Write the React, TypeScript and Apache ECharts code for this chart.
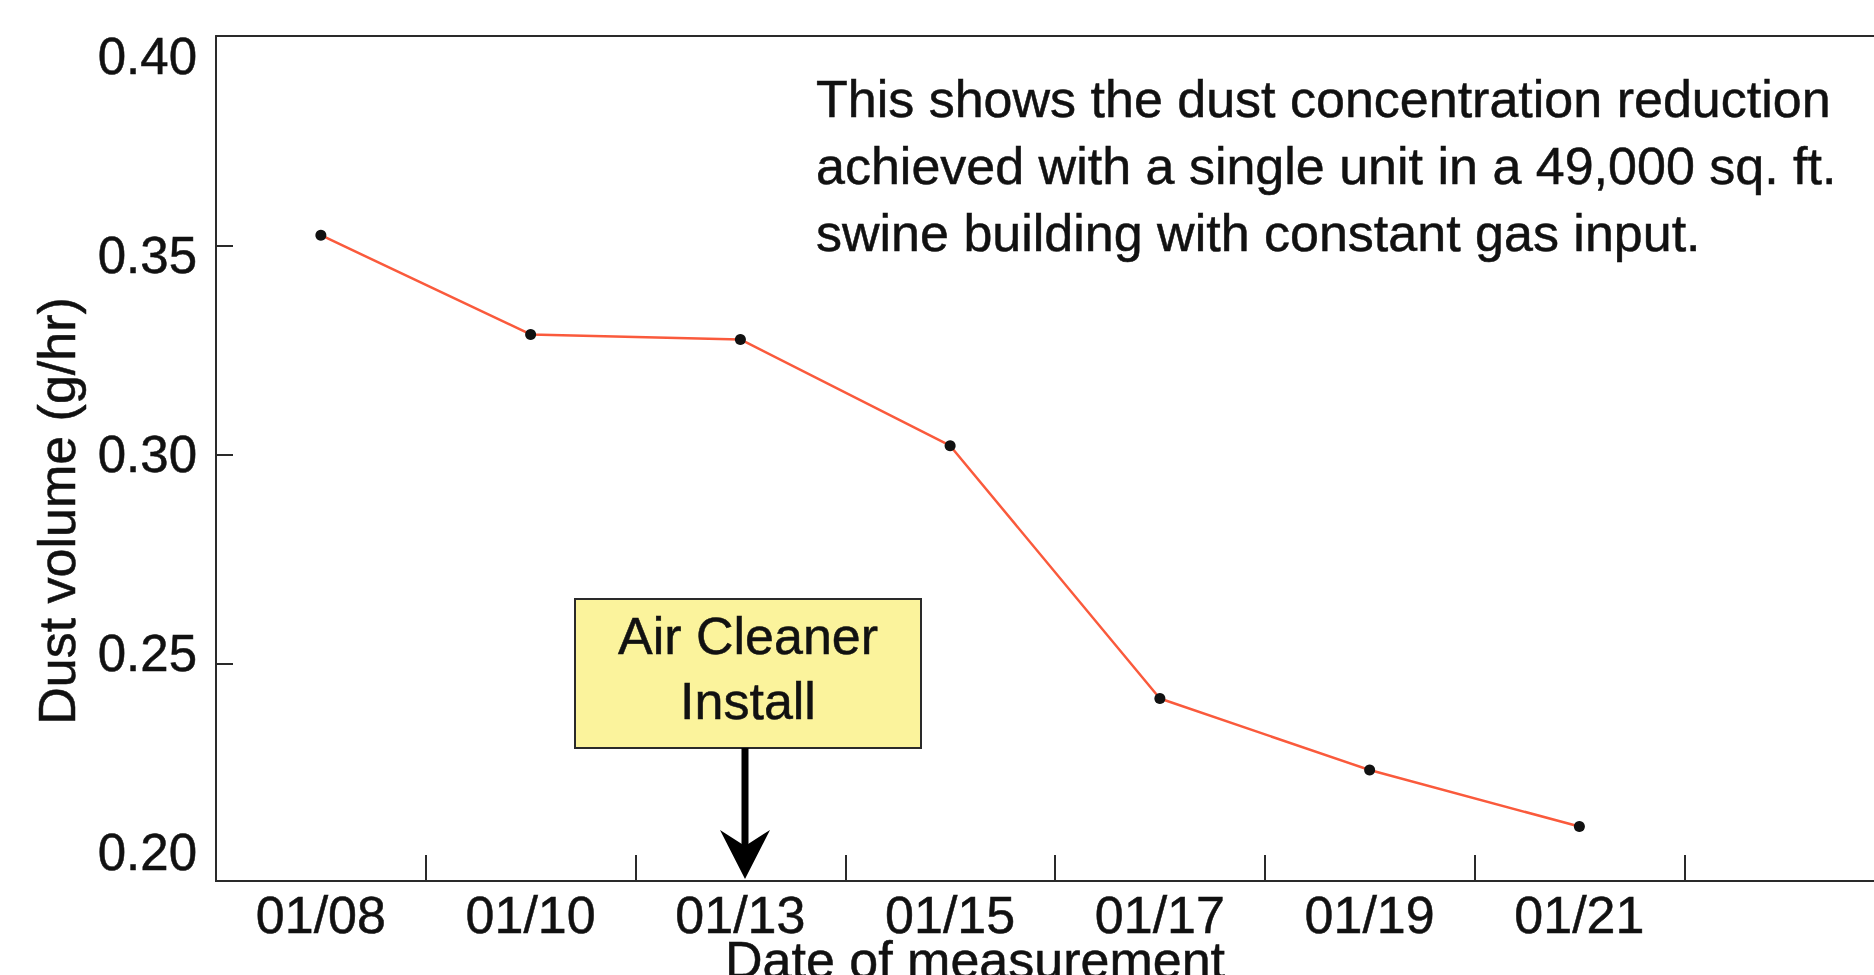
import React, { useEffect, useRef } from "react";
import * as echarts from "echarts";

const categories = ["01/08", "01/10", "01/13", "01/15", "01/17", "01/19", "01/21", ""];
const dustVolume = [0.3524, 0.3287, 0.3275, 0.3021, 0.2417, 0.2246, 0.2111];
const yTickMin = 0.2;
const yTickMax = 0.4;
const yTickStep = 0.05;
const yInnerTicks = [0.25, 0.3, 0.35, 0.4];
const yTitle = "Dust volume (g/hr)";
const xTitle = "Date of measurement";
const noteLines = [
  "This shows the dust concentration reduction",
  "achieved with a single unit in a 49,000 sq. ft.",
  "swine building with constant gas input.",
];
const calloutLines = ["Air Cleaner", "Install"];

const FONT = "'Liberation Sans', Arial, Helvetica, sans-serif";
const INK = "#111111";
const AXIS = "#2a2a2a";

export default function App() {
  const ref = useRef<HTMLDivElement>(null);

  useEffect(() => {
    if (!ref.current) return;
    const chart = echarts.init(ref.current, null, { renderer: "svg" });

    const heavyLabel = { textBorderColor: INK, textBorderWidth: 0.5 };
    const heavyGraphic = { stroke: INK, lineWidth: 0.5 };

    const option: any = {
      animation: false,
      backgroundColor: "#ffffff",
      textStyle: { fontFamily: FONT, color: INK },
      grid: [
        {
          left: 216,
          top: 36,
          width: 1678,
          height: 837,
          show: false,
        },
        {
          left: 216,
          top: 56,
          width: 10,
          height: 796,
          show: false,
        },
      ],
      xAxis: [
        {
          type: "category",
          gridIndex: 0,
          data: categories,
          boundaryGap: true,
          offset: 8,
          axisLine: { lineStyle: { color: AXIS, width: 2 } },
          axisTick: {
            show: true,
            inside: true,
            length: 26,
            interval: 0,
            lineStyle: { color: AXIS, width: 2 },
          },
          axisLabel: {
            interval: 0,
            fontSize: 52,
            lineHeight: 40,
            margin: 14,
            color: INK,
            fontFamily: FONT,
            ...heavyLabel,
          },
          splitLine: { show: false },
        },
        { type: "value", gridIndex: 1, show: false },
        {
          type: "category",
          gridIndex: 0,
          position: "top",
          data: categories,
          axisLine: { show: true, lineStyle: { color: AXIS, width: 2 } },
          axisTick: { show: false },
          axisLabel: { show: false },
          splitLine: { show: false },
        },
      ],
      yAxis: [
        {
          type: "value",
          gridIndex: 0,
          min: yTickMin,
          max: yTickMax,
          interval: yTickStep,
          axisLine: { show: true, lineStyle: { color: AXIS, width: 2 } },
          axisTick: {
            show: true,
            inside: true,
            length: 17,
            customValues: yInnerTicks,
            lineStyle: { color: AXIS, width: 2 },
          },
          axisLabel: { show: false },
          splitLine: { show: false },
        },
        {
          type: "value",
          gridIndex: 1,
          min: yTickMin,
          max: yTickMax,
          interval: yTickStep,
          axisLine: { show: false },
          axisTick: { show: false },
          splitLine: { show: false },
          axisLabel: {
            show: true,
            fontSize: 51,
            margin: 19,
            color: INK,
            fontFamily: FONT,
            ...heavyLabel,
            formatter: (v: number) => v.toFixed(2),
          },
        },
      ],
      series: [
        {
          type: "line",
          xAxisIndex: 0,
          yAxisIndex: 0,
          data: dustVolume,
          symbol: "circle",
          symbolSize: 11,
          lineStyle: { color: "#fa5a3c", width: 2.5 },
          itemStyle: { color: "#111111" },
          z: 3,
        },
      ],
      graphic: [
        {
          type: "line",
          shape: { x1: 216, y1: 872, x2: 216, y2: 882 },
          style: { stroke: AXIS, lineWidth: 2 },
        },
        {
          type: "text",
          x: 816,
          y: 65,
          style: {
            text: noteLines.join("\n"),
            fontSize: 52,
            fontFamily: FONT,
            lineHeight: 67,
            fill: INK,
            align: "left",
            verticalAlign: "top",
            ...heavyGraphic,
          },
        },
        {
          type: "rect",
          shape: { x: 575, y: 599, width: 346, height: 149 },
          style: { fill: "#fbf39c", stroke: AXIS, lineWidth: 2 },
          z: 10,
        },
        {
          type: "text",
          x: 748,
          y: 668,
          style: {
            text: calloutLines.join("\n"),
            fontSize: 52,
            fontFamily: FONT,
            lineHeight: 65,
            fill: INK,
            align: "center",
            verticalAlign: "middle",
            ...heavyGraphic,
          },
          z: 11,
        },
        {
          type: "line",
          shape: { x1: 745, y1: 748, x2: 745, y2: 850 },
          style: { stroke: "#000000", lineWidth: 7 },
          z: 10,
        },
        {
          type: "polygon",
          shape: {
            points: [
              [745, 879],
              [720, 830],
              [745, 846],
              [770, 830],
            ],
          },
          style: { fill: "#000000" },
          z: 10,
        },
        {
          type: "text",
          x: 975,
          y: 960,
          style: {
            text: xTitle,
            fontSize: 52,
            fontFamily: FONT,
            lineHeight: 40,
            fill: INK,
            align: "center",
            verticalAlign: "middle",
            ...heavyGraphic,
          },
        },
        {
          type: "text",
          x: 57,
          y: 511,
          rotation: Math.PI / 2,
          style: {
            text: yTitle,
            fontSize: 52,
            fontFamily: FONT,
            fill: INK,
            align: "center",
            verticalAlign: "middle",
            ...heavyGraphic,
          },
        },
      ],
    };

    chart.setOption(option);
    return () => chart.dispose();
  }, []);

  return (
    <div
      style={{
        position: "fixed",
        left: 0,
        top: 0,
        width: 1874,
        height: 975,
        overflow: "hidden",
        background: "#ffffff",
      }}
    >
      <div ref={ref} style={{ width: 1920, height: 975 }} />
    </div>
  );
}
